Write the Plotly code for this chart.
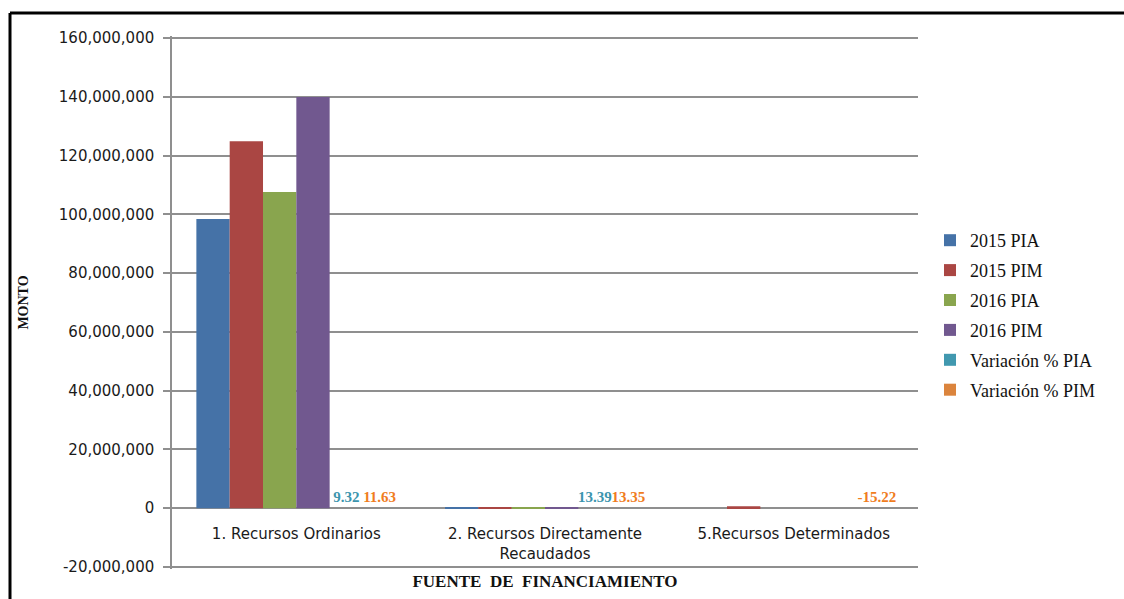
import plotly.graph_objects as go

categories = ["1. Recursos Ordinarios", "2. Recursos Directamente Recaudados", "5.Recursos Determinados"]
tick_labels = ["1. Recursos Ordinarios", "2. Recursos Directamente<br>Recaudados", "5.Recursos Determinados"]

pia_2015 = [98_400_000, 110_000, 0]
pim_2015 = [124_900_000, 120_000, 650_000]
pia_2016 = [107_600_000, 125_000, 0]
pim_2016 = [139_900_000, 136_000, 0]
var_pia = [9.32, 13.39, 0]
var_pim = [11.63, 13.35, -15.22]

series_names = ["2015 PIA", "2015 PIM", "2016 PIA", "2016 PIM", "Variación % PIA", "Variación % PIM"]
series_values = [pia_2015, pim_2015, pia_2016, pim_2016, var_pia, var_pim]
colors = ["#4572A7", "#AA4643", "#89A54E", "#71588F", "#4198AF", "#DB843D"]
label_colors = [None, None, None, None, "#3C95AE", "#F07D1E"]

y_ticks = list(range(-20_000_000, 160_000_001, 20_000_000))
y_ticktext = [f"{v:,}" for v in y_ticks]

W, H = 1124, 599
# plot area slightly larger than the gridded range so edge gridlines are drawn
left, right, top, bottom = 172, 918, 36, 569
grid_top, grid_bottom = 38, 567
zero_px = 508
pw, ph = right - left, bottom - top
units_per_px = 180_000_000 / (grid_bottom - grid_top)
y_min = -20_000_000 - (bottom - grid_bottom) * units_per_px
y_max = 160_000_000 + (grid_top - top) * units_per_px

fig = go.Figure()
for name, vals, col, lcol in zip(series_names, series_values, colors, label_colors):
    kw = {}
    if lcol is not None:
        texts = [f"{v:.2f}" if v != 0 else "" for v in vals]
        kw = dict(text=texts, textposition="outside", cliponaxis=False,
                  constraintext="none",
                  textfont=dict(family="Liberation Serif", size=15, color=lcol, weight="bold"))
    fig.add_trace(go.Bar(x=categories, y=vals, name=name, legendgroup=name,
                         marker=dict(color=col, line=dict(width=0)), **kw))


def px_x(x):
    return (x - left) / pw


def px_y(y):
    return (bottom - y) / ph


fig.update_layout(
    width=W, height=H,
    margin=dict(l=left, r=W - right, t=top, b=H - bottom),
    paper_bgcolor="white", plot_bgcolor="white",
    barmode="group", bargap=0.196, bargroupgap=0,
    font=dict(family="DejaVu Sans", size=14, color="#1a1a1a"),
    showlegend=True,
    legend=dict(x=px_x(930), xanchor="left", y=px_y(315), yanchor="middle",
                font=dict(family="Liberation Serif", size=18, color="#111"),
                tracegroupgap=3.5,
                bgcolor="rgba(0,0,0,0)"),
    xaxis=dict(
        tickvals=categories, ticktext=tick_labels,
        anchor="free", position=px_y(zero_px),
        showline=False,
        ticks="", showgrid=False,
        ticklabelstandoff=15,
        tickfont=dict(family="DejaVu Sans", size=15, color="#1a1a1a"),
        title=dict(text="FUENTE  DE  FINANCIAMIENTO",
                   font=dict(family="Liberation Serif", size=17, color="#111", weight="bold"),
                   standoff=13),
    ),
    yaxis=dict(
        range=[y_min, y_max],
        tickvals=y_ticks, ticktext=y_ticktext,
        showgrid=True, gridcolor="#8F8F8F", gridwidth=1.5,
        zeroline=True, zerolinecolor="#8F8F8F", zerolinewidth=1.5,
        showline=True, linecolor="#8F8F8F", linewidth=1.5,
        ticks="outside", ticklen=7, tickcolor="#8F8F8F", tickwidth=1.5,
        ticklabelstandoff=6,
        tickfont=dict(family="DejaVu Sans", size=15, color="#1a1a1a"),
        title=dict(text="MONTO",
                   font=dict(family="Liberation Serif", size=14, color="#111", weight="bold"),
                   standoff=27),
    ),
    shapes=[
        dict(type="line", xref="paper", yref="paper",
             x0=px_x(10), x1=1.5, y0=px_y(13), y1=px_y(13),
             line=dict(color="black", width=3)),
        dict(type="line", xref="paper", yref="paper",
             x0=px_x(10), x1=px_x(10), y0=-0.2, y1=px_y(13),
             line=dict(color="black", width=3)),
    ],
)

fig.write_html("out.html")
